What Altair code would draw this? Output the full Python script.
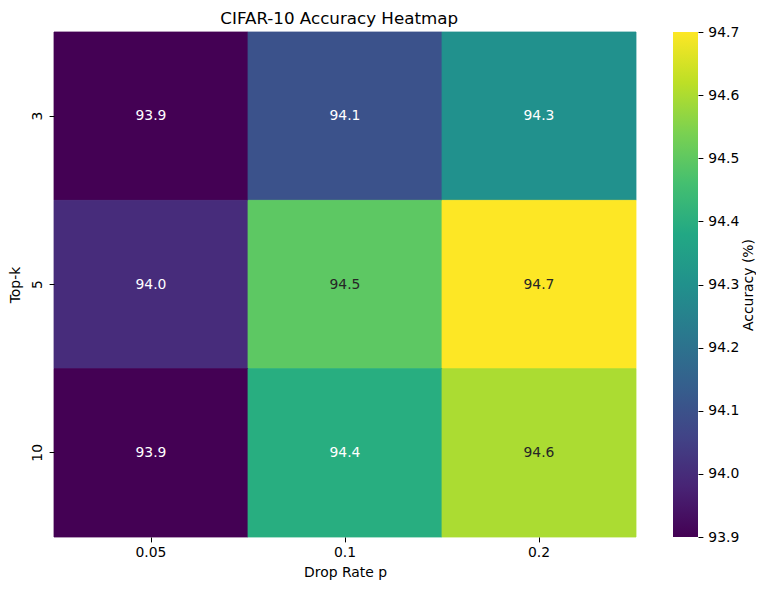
import altair as alt
import pandas as pd

drop_rates = ["0.05", "0.1", "0.2"]
top_k = ["3", "5", "10"]
acc_k3 = [93.9, 94.1, 94.3]
acc_k5 = [94.0, 94.5, 94.7]
acc_k10 = [93.9, 94.4, 94.6]
colorbar_ticks = [93.9, 94.0, 94.1, 94.2, 94.3, 94.4, 94.5, 94.6, 94.7]
viridis_stops = ["#440154", "#482475", "#414487", "#355f8d", "#2a788e", "#21918c",
                 "#22a884", "#44bf70", "#7ad151", "#bddf26", "#fde725"]

rows = []
for k, vals in zip(top_k, [acc_k3, acc_k5, acc_k10]):
    for p, v in zip(drop_rates, vals):
        rows.append({"p": p, "k": k, "acc": v})
df = pd.DataFrame(rows)

lo, hi = colorbar_ticks[0], colorbar_ticks[-1]
bar_df = pd.DataFrame([{"lo": lo, "hi": hi}])

FONT = "DejaVu Sans"

xenc = alt.X("p:N", sort=drop_rates, title="Drop Rate p",
             scale=alt.Scale(paddingInner=0, paddingOuter=0),
             axis=alt.Axis(labelAngle=0, labelPadding=3.4, titlePadding=6.5))
yenc = alt.Y("k:N", sort=top_k, title="Top-k",
             scale=alt.Scale(paddingInner=0, paddingOuter=0),
             axis=alt.Axis(labelAngle=270, labelAlign="center", labelBaseline="bottom",
                           titlePadding=7.5))

base = alt.Chart(df)
rect = base.mark_rect(strokeWidth=0.8).encode(
    x=xenc, y=yenc,
    color=alt.Color("acc:Q",
                    scale=alt.Scale(scheme="viridis", domain=[lo, hi]),
                    legend=None),
    stroke=alt.Stroke("acc:Q",
                      scale=alt.Scale(scheme="viridis", domain=[lo, hi]),
                      legend=None),
)
text = base.mark_text(fontSize=13.9, font=FONT).encode(
    x=xenc, y=yenc,
    text=alt.Text("acc:Q", format=".1f"),
    color=alt.condition("datum.acc > 94.45", alt.value("#262626"), alt.value("white")),
)
heat = (rect + text).properties(width=582, height=505)

n = len(viridis_stops)
gradient = alt.LinearGradient(
    gradient="linear", x1=0, x2=0, y1=1, y2=0,
    stops=[alt.GradientStop(offset=i / (n - 1), color=c) for i, c in enumerate(viridis_stops)],
)
colorbar = alt.Chart(bar_df).mark_rect(fill=gradient).encode(
    y=alt.Y("lo:Q", scale=alt.Scale(domain=[lo, hi], nice=False, zero=False),
            axis=alt.Axis(orient="right", values=colorbar_ticks, format=".1f",
                          title="Accuracy (%)", titleAngle=270, titleBaseline="top",
                          titlePadding=3)),
    y2="hi:Q",
    x=alt.value(0), x2=alt.value(25),
).properties(width=25, height=505)

chart = alt.hconcat(heat, colorbar, spacing=36).properties(
    padding={"top": 2, "left": 0, "right": 0, "bottom": 0},
    title=alt.TitleParams("CIFAR-10 Accuracy Heatmap", fontSize=16.7, font=FONT,
                          fontWeight="normal", color="black", offset=-2.5,
                          anchor="middle", dx=-43),
).configure_view(stroke=None).configure_axis(
    domain=False, tickColor="black", tickSize=4.9, labelFontSize=13.9, titleFontSize=13.9,
    labelFont=FONT, titleFont=FONT, labelColor="black", titleColor="black",
    titleFontWeight="normal", labelPadding=4.9, grid=False,
)

chart.save("out.html", embed_options={"renderer": "svg", "actions": False})
